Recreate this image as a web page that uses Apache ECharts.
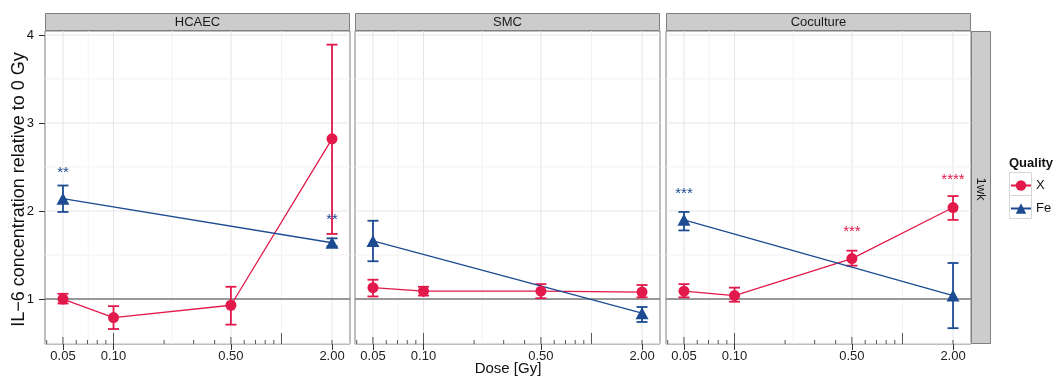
<!DOCTYPE html>
<html>
<head>
<meta charset="utf-8">
<script src="https://cdn.jsdelivr.net/npm/echarts@6/dist/echarts.min.js"></script>
<style>
  html, body { margin: 0; padding: 0; background: #fff; }
  #chart { width: 1058px; height: 381px; }
</style>
</head>
<body>
<div id="chart"></div>
<script>
// ---- data ----
var panels = ['HCAEC', 'SMC', 'Coculture'];
var doseTicks = [0.05, 0.10, 0.50, 2.00];
var xDoses = [0.05, 0.10, 0.50, 2.00];
var feDoses = [0.05, 2.00];
var yTicks = [1, 2, 3, 4];
var yMinor = [0.5, 1.5, 2.5, 3.5];
var logTickDoses = [0.04, 0.05, 0.06, 0.07, 0.08, 0.09, 0.1, 0.2, 0.3, 0.4, 0.5, 0.6, 0.7, 0.8, 0.9, 1, 2];

var hcaecX = [1.00, 0.79, 0.93, 2.82];
var hcaecXLo = [0.95, 0.66, 0.71, 1.74];
var hcaecXHi = [1.06, 0.92, 1.14, 3.89];
var hcaecFe = [2.14, 1.64];
var hcaecFeLo = [1.99, 1.60];
var hcaecFeHi = [2.29, 1.69];

var smcX = [1.13, 1.09, 1.09, 1.08];
var smcXLo = [1.03, 1.04, 1.01, 1.02];
var smcXHi = [1.22, 1.14, 1.17, 1.16];
var smcFe = [1.66, 0.84];
var smcFeLo = [1.43, 0.74];
var smcFeHi = [1.89, 0.91];

var cocX = [1.09, 1.04, 1.46, 2.04];
var cocXLo = [1.02, 0.97, 1.38, 1.90];
var cocXHi = [1.17, 1.13, 1.55, 2.17];
var cocFe = [1.90, 1.04];
var cocFeLo = [1.78, 0.67];
var cocFeHi = [1.99, 1.41];

// significance stars: [dose, y, text, quality]
var hcaecStars = [[0.05, 2.45, '**', 'Fe'], [2.00, 1.91, '**', 'Fe']];
var smcStars = [];
var cocStars = [[0.05, 2.21, '***', 'Fe'], [0.50, 1.77, '***', 'X'], [2.00, 2.37, '****', 'X']];

// ---- layout / style ----
var FONT = '"Liberation Sans", Arial, Helvetica, sans-serif';
var RED = '#E2194B';
var BLUE = '#1C4B92';
var panelLefts = [45, 355, 666];
var PW = 305, PT = 31, PH = 313;
var X_MIN = -1.408, X_MAX = 0.408;   // log10(dose) range
var Y_MIN = 0.49, Y_MAX = 4.045;

var chart = echarts.init(document.getElementById('chart'), null, { renderer: 'canvas' });

function lg(d) { return Math.log10(d); }

function tickLen(d) {
    var m = Math.round(d / Math.pow(10, Math.floor(Math.log10(d) + 1e-9)));
    if (m === 1) return 11;
    if (m === 5) return 7;
    return 4;
}

var gridStyles = [
    { stroke: '#E5E5E5', lineWidth: 1 },   // x major
    { stroke: '#F3F3F3', lineWidth: 1 },   // x minor
    { stroke: '#E5E5E5', lineWidth: 1 },   // y major
    { stroke: '#F3F3F3', lineWidth: 1 },   // y minor
    { stroke: '#7A7A7A', lineWidth: 1.5 }  // reference line at 1
];

function gridData() {
    var out = [];
    var majors = doseTicks.map(lg);
    majors.forEach(function (v) { out.push([v, 0]); });
    for (var i = 0; i < majors.length - 1; i++) out.push([(majors[i] + majors[i + 1]) / 2, 1]);
    yTicks.forEach(function (v) { out.push([v, 2]); });
    yMinor.forEach(function (v) { out.push([v, 3]); });
    out.push([1, 4]);
    return out;
}

function renderGrid(params, api) {
    var v = api.value(0), k = api.value(1);
    var a, b;
    if (k < 2) { a = api.coord([v, Y_MIN]); b = api.coord([v, Y_MAX]); }
    else { a = api.coord([X_MIN, v]); b = api.coord([X_MAX, v]); }
    return { type: 'line', shape: { x1: a[0], y1: a[1], x2: b[0], y2: b[1] }, style: gridStyles[k] };
}

function renderLogTick(params, api) {
    var p = api.coord([api.value(0), Y_MIN]);
    return {
        type: 'line',
        shape: { x1: p[0], y1: p[1], x2: p[0], y2: p[1] - api.value(1) },
        style: { stroke: '#555', lineWidth: 1 }
    };
}

function errRenderer(color) {
    return function (params, api) {
        var lo = api.coord([api.value(0), api.value(1)]);
        var hi = api.coord([api.value(0), api.value(2)]);
        var w = 5.5;
        var st = { stroke: color, lineWidth: 1.8 };
        return {
            type: 'group',
            children: [
                { type: 'line', shape: { x1: lo[0], y1: lo[1], x2: hi[0], y2: hi[1] }, style: st },
                { type: 'line', shape: { x1: lo[0] - w, y1: lo[1], x2: lo[0] + w, y2: lo[1] }, style: st },
                { type: 'line', shape: { x1: hi[0] - w, y1: hi[1], x2: hi[0] + w, y2: hi[1] }, style: st }
            ]
        };
    };
}

function starRenderer(stars) {
    return function (params, api) {
        var s = stars[params.dataIndex];
        var p = api.coord([api.value(0), api.value(1)]);
        return {
            type: 'text', x: p[0], y: p[1] + 1,
            style: {
                text: s[2], fill: s[3] === 'X' ? RED : BLUE,
                fontSize: 15, fontFamily: FONT, align: 'center', verticalAlign: 'middle'
            }
        };
    };
}

var panelData = [
    { x: hcaecX, xLo: hcaecXLo, xHi: hcaecXHi, fe: hcaecFe, feLo: hcaecFeLo, feHi: hcaecFeHi, stars: hcaecStars },
    { x: smcX, xLo: smcXLo, xHi: smcXHi, fe: smcFe, feLo: smcFeLo, feHi: smcFeHi, stars: smcStars },
    { x: cocX, xLo: cocXLo, xHi: cocXHi, fe: cocFe, feLo: cocFeLo, feHi: cocFeHi, stars: cocStars }
];

var grids = [], xAxes = [], yAxes = [], series = [], graphics = [];

panelData.forEach(function (pd, i) {
    grids.push({
        left: panelLefts[i], top: PT, width: PW, height: PH,
        show: true, backgroundColor: '#fff', borderColor: '#7F7F7F', borderWidth: 1
    });
    xAxes.push({
        type: 'value', gridIndex: i, min: X_MIN, max: X_MAX, position: 'bottom',
        axisLine: { show: false, onZero: false },
        splitLine: { show: false },
        axisTick: { show: true, customValues: doseTicks.map(lg), length: 6, lineStyle: { color: '#333', width: 1 } },
        axisLabel: {
            customValues: doseTicks.map(lg),
            formatter: function (v) { return Math.pow(10, v).toFixed(2); },
            color: '#222', fontSize: 13, fontFamily: FONT, margin: 6
        }
    });
    yAxes.push({
        type: 'value', gridIndex: i, min: Y_MIN, max: Y_MAX, position: 'left',
        axisLine: { show: false, onZero: false },
        splitLine: { show: false },
        axisTick: { show: i === 0, customValues: yTicks, length: 6, lineStyle: { color: '#333', width: 1 } },
        axisLabel: { show: i === 0, customValues: yTicks, color: '#111', fontSize: 13, fontFamily: FONT, margin: 11 }
    });

    var common = { xAxisIndex: i, yAxisIndex: i, silent: true, animation: false };

    series.push(Object.assign({ type: 'custom', z: 1, renderItem: renderGrid, data: gridData() }, common));
    series.push(Object.assign({
        type: 'custom', z: 1, renderItem: renderLogTick,
        data: logTickDoses.map(function (d) { return [lg(d), tickLen(d)]; })
    }, common));
    series.push(Object.assign({
        type: 'custom', z: 2, renderItem: errRenderer(RED),
        data: xDoses.map(function (d, j) { return [lg(d), pd.xLo[j], pd.xHi[j]]; })
    }, common));
    series.push(Object.assign({
        type: 'custom', z: 2, renderItem: errRenderer(BLUE),
        data: feDoses.map(function (d, j) { return [lg(d), pd.feLo[j], pd.feHi[j]]; })
    }, common));
    series.push(Object.assign({
        name: 'X', type: 'line', z: 3, symbol: 'circle', symbolSize: 11,
        itemStyle: { color: RED }, lineStyle: { color: RED, width: 1.3 },
        data: xDoses.map(function (d, j) { return [lg(d), pd.x[j]]; })
    }, common));
    series.push(Object.assign({
        name: 'Fe', type: 'line', z: 3, symbol: 'triangle', symbolSize: [13, 12],
        itemStyle: { color: BLUE }, lineStyle: { color: BLUE, width: 1.3 },
        data: feDoses.map(function (d, j) { return [lg(d), pd.fe[j]]; })
    }, common));
    if (pd.stars.length) {
        series.push(Object.assign({
            type: 'custom', z: 4, renderItem: starRenderer(pd.stars),
            data: pd.stars.map(function (s) { return [lg(s[0]), s[1]]; })
        }, common));
    }

    // facet strip on top
    graphics.push({
        type: 'rect', silent: true,
        shape: { x: panelLefts[i] + 0.5, y: 13.5, width: PW - 1, height: 17 },
        style: { fill: '#CCCCCC', stroke: '#7F7F7F', lineWidth: 1 }
    });
    graphics.push({
        type: 'text', silent: true, x: panelLefts[i] + PW / 2, y: 22.5,
        style: { text: panels[i], fontSize: 13, fontFamily: FONT, fill: '#1A1A1A', align: 'center', verticalAlign: 'middle' }
    });
});

// right strip
graphics.push({
    type: 'rect', silent: true,
    shape: { x: 971.5, y: PT + 0.5, width: 19, height: PH - 1 },
    style: { fill: '#CCCCCC', stroke: '#7F7F7F', lineWidth: 1 }
});
graphics.push({
    type: 'text', silent: true, x: 981, y: 189, rotation: -Math.PI / 2,
    style: { text: '1wk', fontSize: 13, fontFamily: FONT, fill: '#1A1A1A', align: 'center', verticalAlign: 'middle' }
});
// axis titles
graphics.push({
    type: 'text', silent: true, x: 19, y: 189.5, rotation: Math.PI / 2,
    style: { text: 'IL\u22126 concentration relative to 0 Gy', fontSize: 18, fontFamily: FONT, fill: '#111', align: 'center', verticalAlign: 'middle' }
});
graphics.push({
    type: 'text', silent: true, x: 508, y: 369,
    style: { text: 'Dose [Gy]', fontSize: 15, fontFamily: FONT, fill: '#111', align: 'center', verticalAlign: 'middle' }
});
// legend title and key boxes
graphics.push({
    type: 'text', silent: true, x: 1009, y: 163,
    style: { text: 'Quality', fontSize: 13, fontWeight: 'bold', fontFamily: FONT, fill: '#111', align: 'left', verticalAlign: 'middle' }
});
graphics.push({
    type: 'rect', silent: true, z: -1,
    shape: { x: 1009.5, y: 172.5, width: 22, height: 23 },
    style: { fill: '#fff', stroke: '#D6D6D6', lineWidth: 1 }
});
graphics.push({
    type: 'rect', silent: true, z: -1,
    shape: { x: 1009.5, y: 195.5, width: 22, height: 23 },
    style: { fill: '#fff', stroke: '#D6D6D6', lineWidth: 1 }
});

var option = {
    backgroundColor: '#fff',
    animation: false,
    grid: grids,
    xAxis: xAxes,
    yAxis: yAxes,
    legend: {
        data: ['X', 'Fe'],
        orient: 'vertical',
        left: 1010, top: 179,
        padding: 0,
        itemWidth: 20, itemHeight: 13, itemGap: 10,
        selectedMode: false,
        textStyle: { fontSize: 13, fontFamily: FONT, color: '#111' }
    },
    graphic: graphics,
    series: series
};

chart.setOption(option);
</script>
</body>
</html>
